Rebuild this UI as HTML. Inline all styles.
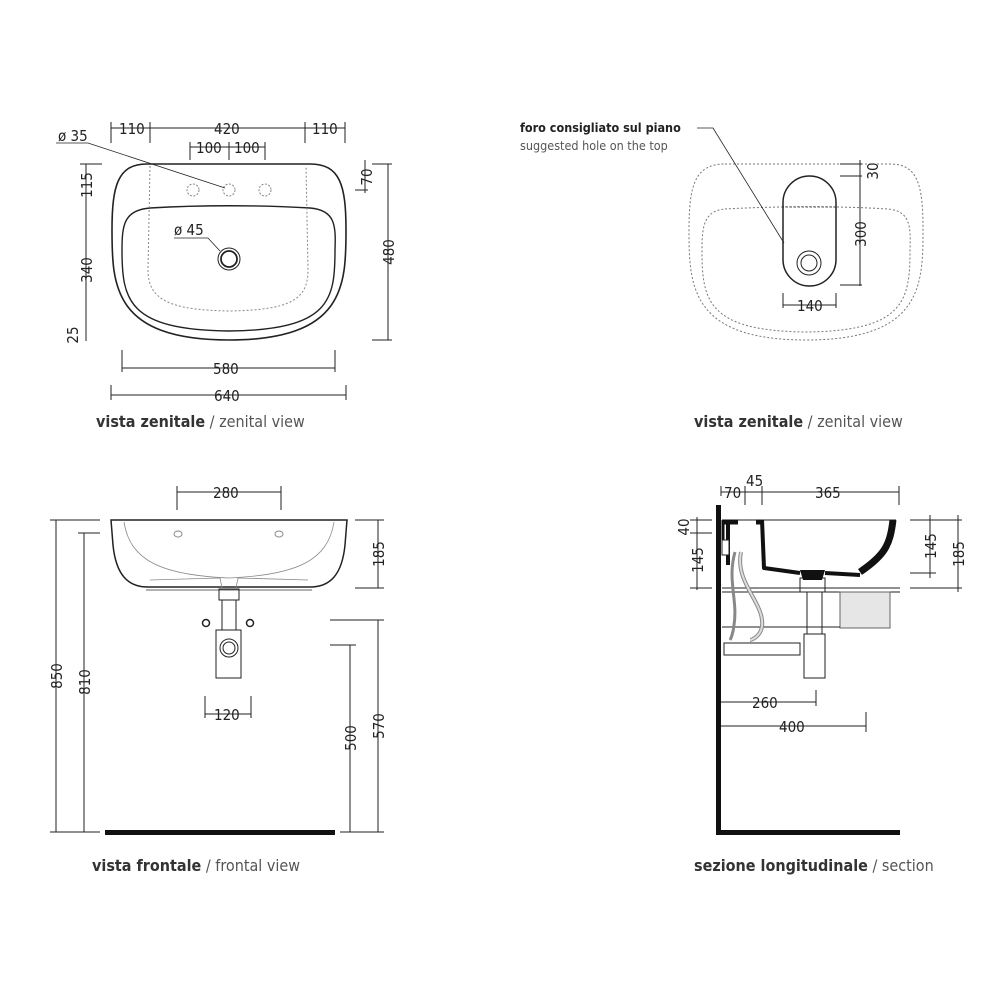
<!DOCTYPE html>
<html><head><meta charset="utf-8"><style>
html,body{margin:0;padding:0;background:#fff}
svg{display:block}
text{font-family:"DejaVu Sans Condensed","Liberation Sans Narrow","Liberation Sans",sans-serif;fill:#222}
.d{font-size:15px}
.l{font-size:16px}
</style></head><body>
<svg width="1000" height="1000" viewBox="0 0 1000 1000" xmlns="http://www.w3.org/2000/svg">
<g stroke="#222" fill="none" stroke-width="1">
<!-- ===== TOP LEFT ===== -->
<path d="M147,164 L310,164 C340,164 346,185 346,230 C346,285 345,340 229,340 C113,340 112,285 112,230 C112,185 118,164 147,164 Z" stroke-width="1.6"/>
<path d="M150,208 C200,205 260,205 310,208 C335,210 336,225 335,250 C335,300 330,330 229,331 C128,330 122,300 122,250 C122,225 124,210 150,208 Z" stroke-width="1.4"/>
<path d="M150,166 L148,270 C148,300 170,310 229,311 C290,310 308,300 308,270 L306,166" stroke="#888" stroke-dasharray="2,2"/>
<circle cx="193" cy="190" r="6" stroke="#888" stroke-dasharray="2,1.5"/>
<circle cx="229" cy="190" r="6" stroke="#888" stroke-dasharray="2,1.5"/>
<circle cx="265" cy="190" r="6" stroke="#888" stroke-dasharray="2,1.5"/>
<circle cx="229" cy="259" r="11" stroke-width="1"/>
<circle cx="229" cy="259" r="8" stroke-width="1.8"/>
<path d="M56,143 L88,143 L225,188" stroke-width="0.8"/>
<path d="M174,238 L208,238 L220,251" stroke-width="0.8"/>
<line x1="111" y1="128" x2="345" y2="128"/>
<line x1="111" y1="122" x2="111" y2="143"/><line x1="150" y1="122" x2="150" y2="143"/><line x1="305" y1="122" x2="305" y2="143"/><line x1="345" y1="122" x2="345" y2="143"/>
<line x1="190" y1="147" x2="265" y2="147"/>
<line x1="190" y1="142" x2="190" y2="160"/><line x1="229" y1="142" x2="229" y2="160"/><line x1="265" y1="142" x2="265" y2="160"/>
<line x1="86" y1="164" x2="86" y2="341"/>
<line x1="80" y1="164" x2="102" y2="164"/>
<line x1="122" y1="368" x2="335" y2="368"/><line x1="122" y1="350" x2="122" y2="372"/><line x1="335" y1="350" x2="335" y2="372"/>
<line x1="111" y1="395" x2="346" y2="395"/><line x1="111" y1="385" x2="111" y2="400"/><line x1="346" y1="385" x2="346" y2="400"/>
<line x1="365" y1="160" x2="365" y2="193"/><line x1="355" y1="190" x2="368" y2="190"/>
<line x1="388" y1="164" x2="388" y2="340"/><line x1="372" y1="164" x2="392" y2="164"/><line x1="372" y1="340" x2="392" y2="340"/>
<!-- ===== TOP RIGHT ===== -->
<path d="M725,164 L890,164 C918,164 923,185 923,230 C923,285 922,340 806,340 C690,340 689,285 689,230 C689,185 695,164 725,164 Z" stroke="#777" stroke-dasharray="2,2"/>
<path d="M725,209 C780,206 840,206 888,209 C910,211 911,226 910,250 C910,300 905,331 806,332 C707,331 702,300 702,250 C702,226 704,211 725,209 Z" stroke="#777" stroke-dasharray="2,2"/>
<line x1="782" y1="207" x2="836" y2="207" stroke="#444" stroke-dasharray="2,2"/>
<rect x="783" y="176" width="53" height="110" rx="26.5" stroke-width="1.5"/>
<circle cx="809" cy="263" r="12"/><circle cx="809" cy="263" r="8"/>
<path d="M697,128 L713,128 L784,243" stroke-width="0.8"/>
<line x1="840" y1="164" x2="862" y2="164"/><line x1="840" y1="176" x2="862" y2="176"/><line x1="840" y1="285" x2="862" y2="285"/>
<line x1="860" y1="160" x2="860" y2="286"/>
<line x1="783" y1="293" x2="783" y2="308"/><line x1="836" y1="293" x2="836" y2="308"/><line x1="783" y1="305" x2="836" y2="305"/>
<!-- ===== BOTTOM LEFT ===== -->
<path d="M111,520 L347,520 L345,545 C342,575 330,587 310,587 L148,587 C128,587 116,575 113,545 Z" stroke-width="1.5"/>
<path d="M124,522 C130,560 160,575 229,578 C298,575 328,560 334,522" stroke="#888" stroke-width="0.8"/>
<path d="M150,580 L220,578 L222,588 M308,580 L238,578 L236,588" stroke="#888" stroke-width="0.8"/>
<line x1="146" y1="590" x2="312" y2="590" stroke="#666"/>
<ellipse cx="178" cy="534" rx="4" ry="3" stroke="#888"/><ellipse cx="279" cy="534" rx="4" ry="3" stroke="#888"/>
<rect x="219" y="589" width="20" height="11"/>
<rect x="222" y="600" width="14" height="30"/>
<rect x="216" y="630" width="25" height="48"/>
<circle cx="229" cy="648" r="9"/><circle cx="229" cy="648" r="6"/>
<circle cx="206" cy="623" r="3.5" stroke-width="1.5"/><circle cx="250" cy="623" r="3.5" stroke-width="1.5"/>
<line x1="177" y1="492" x2="281" y2="492"/><line x1="177" y1="486" x2="177" y2="510"/><line x1="281" y1="486" x2="281" y2="510"/>
<line x1="205" y1="714" x2="251" y2="714"/><line x1="205" y1="696" x2="205" y2="718"/><line x1="251" y1="696" x2="251" y2="718"/>
<line x1="56" y1="520" x2="56" y2="832"/><line x1="50" y1="520" x2="100" y2="520"/>
<line x1="84" y1="533" x2="84" y2="832"/><line x1="78" y1="533" x2="100" y2="533"/>
<line x1="50" y1="832" x2="100" y2="832"/>
<line x1="378" y1="520" x2="378" y2="588"/><line x1="355" y1="520" x2="384" y2="520"/><line x1="355" y1="588" x2="384" y2="588"/>
<line x1="378" y1="620" x2="378" y2="832"/><line x1="330" y1="620" x2="384" y2="620"/>
<line x1="350" y1="645" x2="350" y2="832"/><line x1="330" y1="645" x2="356" y2="645"/>
<line x1="340" y1="832" x2="384" y2="832"/>
<!-- ===== BOTTOM RIGHT ===== -->
<line x1="722" y1="520" x2="896" y2="520"/>
<line x1="722" y1="588" x2="900" y2="588"/><line x1="722" y1="592" x2="900" y2="592"/>
<rect x="840" y="592" width="50" height="36" fill="#e6e6e6" stroke="#666"/>
<line x1="722" y1="627" x2="840" y2="627"/>
<rect x="724" y="643" width="76" height="12"/>
<rect x="807" y="592" width="15" height="42"/>
<rect x="804" y="634" width="21" height="44"/>
<rect x="800" y="578" width="25" height="14"/>
<path d="M741,552 C735,580 760,600 762,620 C764,635 752,640 750,640" stroke="#888" stroke-width="4"/>
<path d="M741,552 C735,580 760,600 762,620 C764,635 752,640 750,640" stroke="#ddd" stroke-width="2"/>
<path d="M735,552 C727,580 738,600 734,625 C733,635 730,640 730,640" stroke="#888" stroke-width="3"/>
<line x1="721" y1="492" x2="899" y2="492"/>
<line x1="721" y1="486" x2="721" y2="496"/><line x1="745" y1="486" x2="745" y2="505"/><line x1="762" y1="486" x2="762" y2="505"/><line x1="899" y1="486" x2="899" y2="505"/>
<line x1="697" y1="517" x2="697" y2="590"/>
<line x1="690" y1="520" x2="712" y2="520"/><line x1="690" y1="533" x2="712" y2="533"/><line x1="690" y1="588" x2="712" y2="588"/>
<line x1="910" y1="520" x2="962" y2="520"/><line x1="910" y1="573" x2="936" y2="573"/><line x1="910" y1="588" x2="962" y2="588"/>
<line x1="930" y1="515" x2="930" y2="578"/><line x1="958" y1="515" x2="958" y2="592"/>
<line x1="721" y1="702" x2="816" y2="702"/><line x1="816" y1="690" x2="816" y2="706"/>
<line x1="721" y1="726" x2="866" y2="726"/><line x1="866" y1="712" x2="866" y2="732"/>
</g>
<!-- section profile -->
<g stroke="#111" fill="none" stroke-linejoin="round">
<path d="M722,522 L738,522 M756,522 L762,522" stroke-width="5"/>
<path d="M723,520 L723,545" stroke-width="3"/>
<path d="M728,524 L728,565" stroke-width="4"/>
<path d="M762,520 L764,568 L800,573" stroke-width="4"/>
<path d="M825,573 L860,575" stroke-width="4"/>
<path d="M893,520 C890,545 885,555 860,572" stroke-width="7"/>
</g>
<path d="M800,570 L825,570 L822,580 L803,580 Z" fill="#111"/>
<rect x="722" y="540" width="7" height="15" fill="#fff" stroke="#222"/>
<rect x="716" y="505" width="5" height="330" fill="#111"/>
<rect x="716" y="830" width="184" height="5" fill="#111"/>
<rect x="105" y="830" width="230" height="5" fill="#111"/>

<text class="d" x="119" y="134">110</text>
<text class="d" x="214" y="134">420</text>
<text class="d" x="312" y="134">110</text>
<text class="d" x="196" y="153">100</text>
<text class="d" x="234" y="153">100</text>
<text class="d" x="58" y="141">ø 35</text>
<text class="d" x="174" y="235">ø 45</text>
<text class="d" x="213" y="374">580</text>
<text class="d" x="214" y="401">640</text>
<g class="d">
<text transform="translate(92,185) rotate(-90)" text-anchor="middle">115</text>
<text transform="translate(92,270) rotate(-90)" text-anchor="middle">340</text>
<text transform="translate(78,335) rotate(-90)" text-anchor="middle">25</text>
<text transform="translate(372,177) rotate(-90)" text-anchor="middle">70</text>
<text transform="translate(394,252) rotate(-90)" text-anchor="middle">480</text>
<text transform="translate(878,171) rotate(-90)" text-anchor="middle">30</text>
<text transform="translate(866,234) rotate(-90)" text-anchor="middle">300</text>
<text transform="translate(62,676) rotate(-90)" text-anchor="middle">850</text>
<text transform="translate(90,682) rotate(-90)" text-anchor="middle">810</text>
<text transform="translate(384,554) rotate(-90)" text-anchor="middle">185</text>
<text transform="translate(384,726) rotate(-90)" text-anchor="middle">570</text>
<text transform="translate(356,738) rotate(-90)" text-anchor="middle">500</text>
<text transform="translate(689,527) rotate(-90)" text-anchor="middle">40</text>
<text transform="translate(703,560) rotate(-90)" text-anchor="middle">145</text>
<text transform="translate(936,546) rotate(-90)" text-anchor="middle">145</text>
<text transform="translate(964,554) rotate(-90)" text-anchor="middle">185</text>
</g>
<text class="d" x="797" y="311">140</text>
<text class="d" x="213" y="498">280</text>
<text class="d" x="214" y="720">120</text>
<text class="d" x="724" y="498">70</text>
<text class="d" x="746" y="486">45</text>
<text class="d" x="815" y="498">365</text>
<text class="d" x="752" y="708">260</text>
<text class="d" x="779" y="732">400</text>
<text x="520" y="132" style="font-size:12.5px;font-weight:bold">foro consigliato sul piano</text>
<text x="520" y="150" style="font-size:12.5px;fill:#555">suggested hole on the top</text>
<text class="l" x="96" y="427"><tspan style="font-weight:bold;fill:#333">vista zenitale</tspan><tspan fill="#555"> / zenital view</tspan></text>
<text class="l" x="694" y="427"><tspan style="font-weight:bold;fill:#333">vista zenitale</tspan><tspan fill="#555"> / zenital view</tspan></text>
<text class="l" x="92" y="871"><tspan style="font-weight:bold;fill:#333">vista frontale</tspan><tspan fill="#555"> / frontal view</tspan></text>
<text class="l" x="694" y="871"><tspan style="font-weight:bold;fill:#333">sezione longitudinale</tspan><tspan fill="#555"> / section</tspan></text>
</svg>
</body></html>
